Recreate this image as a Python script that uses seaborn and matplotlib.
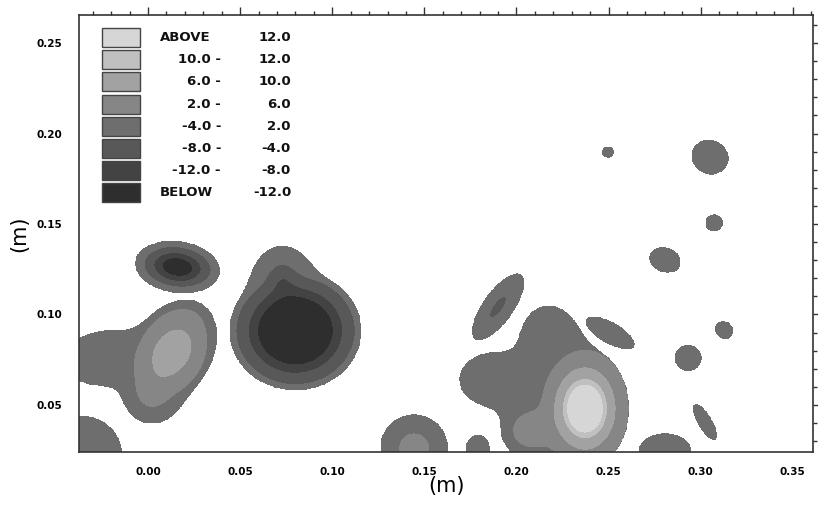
import numpy as np
import seaborn as sns
import matplotlib
matplotlib.use("Agg")
import matplotlib.pyplot as plt
from matplotlib.patches import Rectangle
from matplotlib.ticker import MultipleLocator, FormatStrFormatter

# contour classes, from darkest to lightest
level_bounds = [-100.0, -12.0, -8.0, -4.0, 2.0, 6.0, 10.0, 12.0, 100.0]
level_colors = ["#2e2e2e", "#434343", "#585858", "#6e6e6e",
                "#868686", "#a2a2a2", "#c0c0c0", "#d6d6d6"]

# legend rows, top to bottom
legend_left = ["ABOVE", "10.0 -", "6.0 -", "2.0 -", "-4.0 -", "-8.0 -", "-12.0 -", "BELOW"]
legend_right = ["12.0", "12.0", "10.0", "6.0", "2.0", "-4.0", "-8.0", "-12.0"]

# blobs: patch id, centre (m), spread (m), tilt (deg), value at centre
blob_patch = [0, 1, 1, 1, 2, 2, 3, 4, 5, 6,
              7, 7, 7, 7, 8, 9, 10, 11, 12,
              13, 14, 15, 16]
blob_x = [0.016, 0.013, -0.026, 0.002, 0.080, 0.0725, -0.035, 0.1444, 0.179, 0.190,
          0.2372, 0.2172, 0.1884, 0.207, 0.2508, 0.2807, 0.2932, 0.3051, 0.3073,
          0.3127, 0.2497, 0.2807, 0.3024]
blob_y = [0.1262, 0.079, 0.076, 0.056, 0.091, 0.1215, 0.022, 0.026, 0.0245, 0.1041,
          0.048, 0.085, 0.064, 0.036, 0.0898, 0.1301, 0.0760, 0.1870, 0.1506,
          0.0914, 0.1898, 0.0245, 0.0405]
blob_sx = [0.0155, 0.021, 0.013, 0.008, 0.024, 0.008, 0.014, 0.0123, 0.0045, 0.0145,
           0.0160, 0.010, 0.013, 0.010, 0.010, 0.0045, 0.0048, 0.0062, 0.0032,
           0.0030, 0.0022, 0.0095, 0.0075]
blob_sy = [0.0095, 0.0145, 0.0095, 0.009, 0.022, 0.0095, 0.0145, 0.0125, 0.006, 0.0055,
           0.022, 0.013, 0.010, 0.010, 0.0038, 0.0058, 0.0048, 0.0068, 0.0030,
           0.0034, 0.0020, 0.0065, 0.0025]
blob_angle = [-8, 60, 10, 0, 0, 0, 0, 0, 0, 55,
              0, 0, 0, 0, -30, 70, 0, 60, 0,
              40, 0, 0, -60]
blob_depth = [-16, 9, 1, 2, -25, -4, 1, 3, -2, -5,
              17, 0, 0, 4, -4, -4, -4, -4, -4,
              -4, -4, -3, -3]

xlim = (-0.0375, 0.361)
ylim = (0.024, 0.2655)

sns.set_theme(style="white")
plt.rcParams["font.family"] = ["DejaVu Sans"]

xs = np.linspace(xlim[0], xlim[1], 900)
ys = np.linspace(ylim[0], ylim[1], 600)
X, Y = np.meshgrid(xs, ys)
patch_sum = {}
value = np.zeros_like(X)
for p, cx, cy, sx, sy, ang, d in zip(blob_patch, blob_x, blob_y, blob_sx, blob_sy,
                                     blob_angle, blob_depth):
    th = np.radians(ang)
    dx, dy = X - cx, Y - cy
    u = dx * np.cos(th) + dy * np.sin(th)
    v = -dx * np.sin(th) + dy * np.cos(th)
    g = np.exp(-0.5 * ((u / sx) ** 2 + (v / sy) ** 2))
    patch_sum[p] = patch_sum.get(p, 0) + g
    value += d * g ** 2
presence = np.max(np.stack(list(patch_sum.values())), axis=0)
Z = np.ma.masked_where(presence < 0.33, value)

fig = plt.figure(figsize=(8.18, 5.22), dpi=100, facecolor="white")
ax = fig.add_axes([79 / 818, 1 - 452 / 522, 734 / 818, 437 / 522])
ax.contourf(X, Y, Z, levels=level_bounds, colors=level_colors)

ax.set_xlim(*xlim)
ax.set_ylim(*ylim)
ax.xaxis.set_major_locator(MultipleLocator(0.05))
ax.xaxis.set_minor_locator(MultipleLocator(0.01))
ax.yaxis.set_major_locator(MultipleLocator(0.05))
ax.yaxis.set_minor_locator(MultipleLocator(0.01))
ax.xaxis.set_major_formatter(FormatStrFormatter("%.2f"))
ax.yaxis.set_major_formatter(FormatStrFormatter("%.2f"))
ax.tick_params(which="both", direction="out", top=True, right=True,
               labeltop=False, labelright=False, color="#333333", width=1.0,
               labelcolor="black")
ax.tick_params(which="major", length=6, labelsize=7.5)
ax.tick_params(axis="x", which="major", pad=5)
ax.tick_params(axis="y", which="major", pad=6)
ax.tick_params(which="minor", length=3)
for lab in ax.get_xticklabels() + ax.get_yticklabels():
    lab.set_fontweight("bold")
for sp in ax.spines.values():
    sp.set_color("#333333")
    sp.set_linewidth(1.2)

ax.set_xlabel("(m)", fontsize=15, labelpad=-1, color="black")
ax.set_ylabel("(m)", fontsize=15, labelpad=5, color="black")

# legend drawn as swatches and two text columns (figure pixels)
swatch_colors = level_colors[::-1]
for i in range(len(legend_left)):
    top = 28 + 22.2 * i
    fig.patches.append(Rectangle((102 / 818, 1 - (top + 19) / 522), 38 / 818, 19 / 522,
                                 transform=fig.transFigure, facecolor=swatch_colors[i],
                                 edgecolor="#444444", linewidth=1.0))
    yc = 1 - (top + 9.5) / 522
    if legend_left[i] in ("ABOVE", "BELOW"):
        fig.text(160 / 818, yc, legend_left[i], ha="left", va="center",
                 fontsize=9.5, fontweight="bold", color="#111111")
    else:
        fig.text(221 / 818, yc, legend_left[i], ha="right", va="center",
                 fontsize=9.5, fontweight="bold", color="#111111")
    fig.text(291 / 818, yc, legend_right[i], ha="right", va="center",
             fontsize=9.5, fontweight="bold", color="#111111")

fig.savefig("out.png", dpi=100, facecolor="white")
